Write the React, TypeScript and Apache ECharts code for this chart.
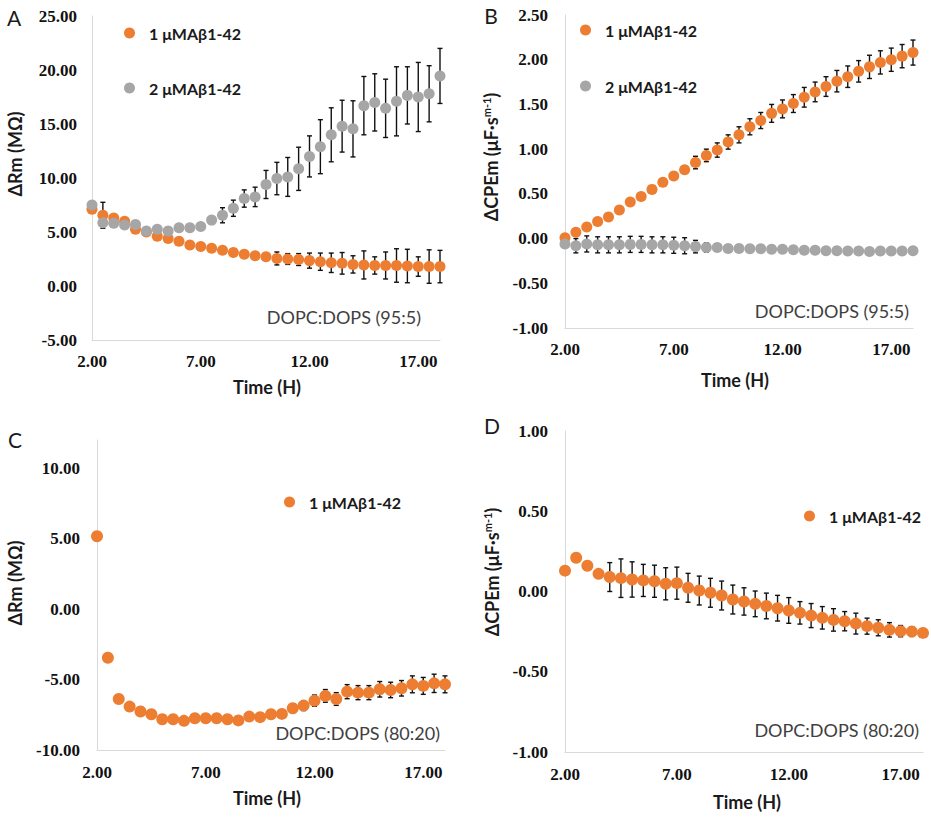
import React, { useEffect, useRef } from "react";
import * as echarts from "echarts";

const hours = [2.0, 2.5, 3.0, 3.5, 4.0, 4.5, 5.0, 5.5, 6.0, 6.5, 7.0, 7.5, 8.0, 8.5, 9.0, 9.5, 10.0, 10.5, 11.0, 11.5, 12.0, 12.5, 13.0, 13.5, 14.0, 14.5, 15.0, 15.5, 16.0, 16.5, 17.0, 17.5, 18.0];
const xTicks = [2, 7, 12, 17];

// Panel A: ΔRm, DOPC:DOPS (95:5)
const aOrange = [7.1, 6.55, 6.3, 6.0, 5.25, 5.0, 4.6, 4.4, 4.15, 3.8, 3.65, 3.5, 3.3, 3.1, 2.95, 2.8, 2.7, 2.55, 2.5, 2.45, 2.35, 2.25, 2.15, 2.1, 2.0, 1.95, 1.9, 1.9, 1.9, 1.85, 1.8, 1.8, 1.8];
const aOrangeErr = [0, 1.2, 0.2, 0.2, 0.15, 0.1, 0.1, 0.1, 0.1, 0.1, 0.1, 0.1, 0.1, 0.15, 0.2, 0.25, 0.3, 0.6, 0.5, 0.55, 0.7, 0.8, 0.9, 1.0, 0.8, 1.3, 0.8, 1.25, 1.55, 1.55, 0.9, 1.55, 1.5];
const aGray = [7.5, 5.85, 5.8, 5.65, 5.7, 5.1, 5.25, 5.1, 5.4, 5.4, 5.5, 6.1, 6.55, 7.2, 8.1, 8.25, 9.4, 9.95, 10.1, 10.85, 12.0, 12.9, 14.0, 14.8, 14.55, 16.7, 17.0, 16.45, 17.1, 17.65, 17.5, 17.8, 19.45];
const aGrayErr = [0.3, 0.2, 0.2, 0.2, 0.2, 0.2, 0.2, 0.2, 0.2, 0.2, 0.3, 0.3, 0.7, 0.75, 0.8, 0.9, 1.3, 1.5, 1.8, 2.0, 1.9, 2.5, 2.5, 2.4, 2.6, 2.7, 2.65, 2.7, 3.2, 2.65, 3.2, 2.6, 2.55];
const aYTicks = [-5, 0, 5, 10, 15, 20, 25];

// Panel B: ΔCPEm, DOPC:DOPS (95:5)
const bOrange = [0.01, 0.07, 0.13, 0.19, 0.24, 0.32, 0.41, 0.47, 0.55, 0.63, 0.7, 0.77, 0.85, 0.93, 0.99, 1.08, 1.16, 1.25, 1.32, 1.4, 1.45, 1.51, 1.58, 1.64, 1.7, 1.76, 1.81, 1.87, 1.92, 1.97, 2.0, 2.04, 2.08];
const bOrangeErr = [0.03, 0.03, 0.03, 0.03, 0.03, 0.03, 0.03, 0.03, 0.03, 0.03, 0.03, 0.04, 0.07, 0.07, 0.08, 0.08, 0.09, 0.09, 0.09, 0.1, 0.1, 0.1, 0.11, 0.11, 0.11, 0.12, 0.12, 0.12, 0.13, 0.13, 0.13, 0.13, 0.14];
const bGray = [-0.06, -0.08, -0.06, -0.07, -0.07, -0.07, -0.065, -0.065, -0.07, -0.07, -0.075, -0.08, -0.09, -0.1, -0.1, -0.11, -0.11, -0.115, -0.115, -0.12, -0.12, -0.125, -0.13, -0.13, -0.135, -0.135, -0.14, -0.14, -0.145, -0.14, -0.14, -0.14, -0.135];
const bGrayErr = [0.02, 0.08, 0.09, 0.09, 0.09, 0.09, 0.09, 0.09, 0.09, 0.09, 0.09, 0.09, 0.07, 0.05, 0.04, 0.03, 0.03, 0.03, 0.03, 0.03, 0.03, 0.03, 0.03, 0.03, 0.03, 0.03, 0.03, 0.03, 0.03, 0.03, 0.03, 0.03, 0.03];
const bYTicks = [-1, -0.5, 0, 0.5, 1, 1.5, 2, 2.5];

// Panel C: ΔRm, DOPC:DOPS (80:20)
const cOrange = [5.17, -3.45, -6.38, -6.92, -7.27, -7.46, -7.82, -7.82, -7.93, -7.75, -7.75, -7.75, -7.82, -7.9, -7.63, -7.67, -7.46, -7.44, -7.04, -6.85, -6.5, -6.16, -6.38, -5.86, -5.93, -5.93, -5.69, -5.74, -5.62, -5.34, -5.45, -5.27, -5.34];
const cOrangeErr = [0.2, 0.2, 0.2, 0.2, 0.2, 0.2, 0.2, 0.2, 0.2, 0.2, 0.2, 0.2, 0.2, 0.2, 0.2, 0.2, 0.2, 0.2, 0.3, 0.35, 0.4, 0.45, 0.45, 0.5, 0.5, 0.5, 0.55, 0.55, 0.55, 0.6, 0.6, 0.65, 0.6];
const cYTicks = [-10, -5, 0, 5, 10];

// Panel D: ΔCPEm, DOPC:DOPS (80:20)
const dOrange = [0.13, 0.21, 0.16, 0.11, 0.09, 0.083, 0.075, 0.069, 0.064, 0.048, 0.052, 0.023, 0.006, -0.008, -0.025, -0.05, -0.062, -0.077, -0.09, -0.104, -0.118, -0.133, -0.15, -0.164, -0.177, -0.185, -0.2, -0.216, -0.226, -0.239, -0.247, -0.25, -0.258];
const dOrangeErr = [0.01, 0.01, 0.01, 0.02, 0.09, 0.12, 0.11, 0.1, 0.1, 0.1, 0.1, 0.09, 0.09, 0.09, 0.09, 0.09, 0.085, 0.08, 0.08, 0.08, 0.08, 0.07, 0.075, 0.07, 0.07, 0.06, 0.065, 0.05, 0.05, 0.045, 0.035, 0.03, 0.02];
const dYTicks = [-1, -0.5, 0, 0.5, 1];

const S1 = "1 μMAβ1-42";
const S2 = "2 μMAβ1-42";
const ORANGE = "#ED7D31";
const GRAY = "#A6A6A6";
const AXIS = "#D9D9D9";
const SERIF = "'Liberation Serif', 'Times New Roman', serif";
const SANS = "Lato, 'Open Sans', sans-serif";

const pairs = (ys: number[]) => hours.map((h, i) => [h, ys[i]]);
const triples = (ys: number[], es: number[]) => hours.map((h, i) => [h, ys[i], es[i]]);

const renderErr = (params: any, api: any) => {
  const x = api.value(0);
  const y = api.value(1);
  const e = api.value(2);
  if (!e) return null;
  const p1 = api.coord([x, y + e]);
  const p2 = api.coord([x, y - e]);
  const w = 2.5;
  const style = { stroke: "#111", lineWidth: 1.4 };
  return {
    type: "group",
    children: [
      { type: "line", shape: { x1: p1[0], y1: p1[1], x2: p2[0], y2: p2[1] }, style },
      { type: "line", shape: { x1: p1[0] - w, y1: p1[1], x2: p1[0] + w, y2: p1[1] }, style },
      { type: "line", shape: { x1: p2[0] - w, y1: p2[1], x2: p2[0] + w, y2: p2[1] }, style },
    ],
  };
};

const xAxisFor = (gridIndex: number, margin: number) => ({
  type: "value",
  gridIndex,
  min: 2,
  max: 18,
  axisLine: { show: true, onZero: false, lineStyle: { color: AXIS, width: 1 } },
  axisTick: { show: false },
  splitLine: { show: false },
  axisLabel: {
    customValues: xTicks,
    margin,
    fontFamily: SERIF,
    fontWeight: "bold",
    fontSize: 17,
    color: "#111",
    formatter: (v: number) => v.toFixed(2),
  },
});

const yAxisFor = (gridIndex: number, min: number, max: number, ticks: number[], margin: number) => ({
  type: "value",
  gridIndex,
  min,
  max,
  axisLine: { show: true, onZero: false, lineStyle: { color: AXIS, width: 1 } },
  axisTick: { show: false },
  splitLine: { show: false },
  axisLabel: {
    customValues: ticks,
    margin,
    fontFamily: SERIF,
    fontWeight: "bold",
    fontSize: 17,
    color: "#111",
    formatter: (v: number) => v.toFixed(2),
  },
});

const scatter = (name: string, idx: number, ys: number[], color: string, size: number) => ({
  type: "scatter",
  name,
  xAxisIndex: idx,
  yAxisIndex: idx,
  data: pairs(ys),
  symbol: "circle",
  symbolSize: size,
  itemStyle: { color, opacity: 1 },
  z: 3,
  silent: true,
});

const errSeries = (idx: number, ys: number[], es: number[]) => ({
  type: "custom",
  xAxisIndex: idx,
  yAxisIndex: idx,
  data: triples(ys, es),
  encode: { x: 0, y: 1 },
  renderItem: renderErr,
  z: 2,
  silent: true,
});

const legendFor = (left: number, top: number, data: string[], gap: number) => ({
  orient: "vertical",
  left,
  top,
  padding: 0,
  itemGap: gap,
  itemWidth: 11,
  itemHeight: 11,
  icon: "circle",
  selectedMode: false,
  data,
  textStyle: {
    fontFamily: SANS,
    fontWeight: "bold",
    fontSize: 16,
    lineHeight: 18,
    color: "#1a1a1a",
    padding: [0, 0, 0, 9],
  },
});

const txt = (x: number, y: number, text: string, opts: any = {}) => ({
  type: "text",
  x,
  y,
  rotation: opts.rotation || 0,
  style: {
    text,
    fontFamily: SANS,
    fontSize: opts.fontSize || 18,
    fontWeight: opts.fontWeight || "normal",
    fill: opts.fill || "#1a1a1a",
    align: opts.align || "center",
    verticalAlign: "middle",
    rich: opts.rich,
  },
  silent: true,
});

const supRich = {
  sup: { fontFamily: SANS, fontWeight: "bold", fontSize: 11, fill: "#1a1a1a", padding: [0, 0, 9, 0] },
};

export default function App() {
  const ref = useRef<HTMLDivElement>(null);
  useEffect(() => {
    if (!ref.current) return;
    const chart = echarts.init(ref.current, null, { renderer: "svg" });
    chart.setOption({
      animation: false,
      backgroundColor: "#ffffff",
      grid: [
        { left: 92, top: 16, width: 348, height: 324 },
        { left: 565, top: 15, width: 348, height: 313 },
        { left: 97, top: 440, width: 348, height: 310 },
        { left: 565, top: 431, width: 358, height: 321 },
      ],
      xAxis: [xAxisFor(0, 13), xAxisFor(1, 13), xAxisFor(2, 14), xAxisFor(3, 14)],
      yAxis: [
        yAxisFor(0, -5, 25, aYTicks, 15),
        yAxisFor(1, -1, 2.5, bYTicks, 17),
        yAxisFor(2, -10, 12, cYTicks, 17),
        yAxisFor(3, -1, 1, dYTicks, 17),
      ],
      legend: [
        legendFor(124, 24, [S1, S2], 37),
        legendFor(580, 21, [S1, S2], 38),
        legendFor(284, 493, [S1], 10),
        legendFor(804, 507, [S1], 10),
      ],
      series: [
        errSeries(0, aOrange, aOrangeErr),
        errSeries(0, aGray, aGrayErr),
        scatter(S1, 0, aOrange, ORANGE, 11),
        scatter(S2, 0, aGray, GRAY, 11),
        errSeries(1, bOrange, bOrangeErr),
        errSeries(1, bGray, bGrayErr),
        scatter(S1, 1, bOrange, ORANGE, 11),
        scatter(S2, 1, bGray, GRAY, 11),
        errSeries(2, cOrange, cOrangeErr),
        scatter(S1, 2, cOrange, ORANGE, 12),
        errSeries(3, dOrange, dOrangeErr),
        scatter(S1, 3, dOrange, ORANGE, 12),
      ],
      graphic: [
        txt(14, 17, "A", { fontSize: 21 }),
        txt(491, 15, "B", { fontSize: 21 }),
        txt(15, 439, "C", { fontSize: 21 }),
        txt(492, 425, "D", { fontSize: 21 }),
        txt(15, 154, "ΔRm (MΩ)", { rotation: Math.PI / 2, fontWeight: "bold", fontSize: 18 }),
        txt(491, 157, "ΔCPEm (μF·s{sup|m-1})", { rotation: Math.PI / 2, fontWeight: "bold", fontSize: 18, rich: supRich }),
        txt(15, 583, "ΔRm (MΩ)", { rotation: Math.PI / 2, fontWeight: "bold", fontSize: 18 }),
        txt(492, 572, "ΔCPEm (μF·s{sup|m-1})", { rotation: Math.PI / 2, fontWeight: "bold", fontSize: 18, rich: supRich }),
        txt(267, 387, "Time (H)", { fontWeight: "bold", fontSize: 18 }),
        txt(735, 380, "Time (H)", { fontWeight: "bold", fontSize: 18 }),
        txt(267, 798, "Time (H)", { fontWeight: "bold", fontSize: 18 }),
        txt(747, 802, "Time (H)", { fontWeight: "bold", fontSize: 18 }),
        txt(421, 317, "DOPC:DOPS (95:5)", { align: "right", fill: "#404040" }),
        txt(909, 311, "DOPC:DOPS (95:5)", { align: "right", fill: "#404040" }),
        txt(440, 733, "DOPC:DOPS (80:20)", { align: "right", fill: "#404040" }),
        txt(919, 730, "DOPC:DOPS (80:20)", { align: "right", fill: "#404040" }),
      ],
    });
    return () => chart.dispose();
  }, []);
  return (
    <div
      ref={ref}
      style={{ position: "fixed", left: 0, top: 0, width: 931, height: 817, background: "#fff" }}
    />
  );
}
